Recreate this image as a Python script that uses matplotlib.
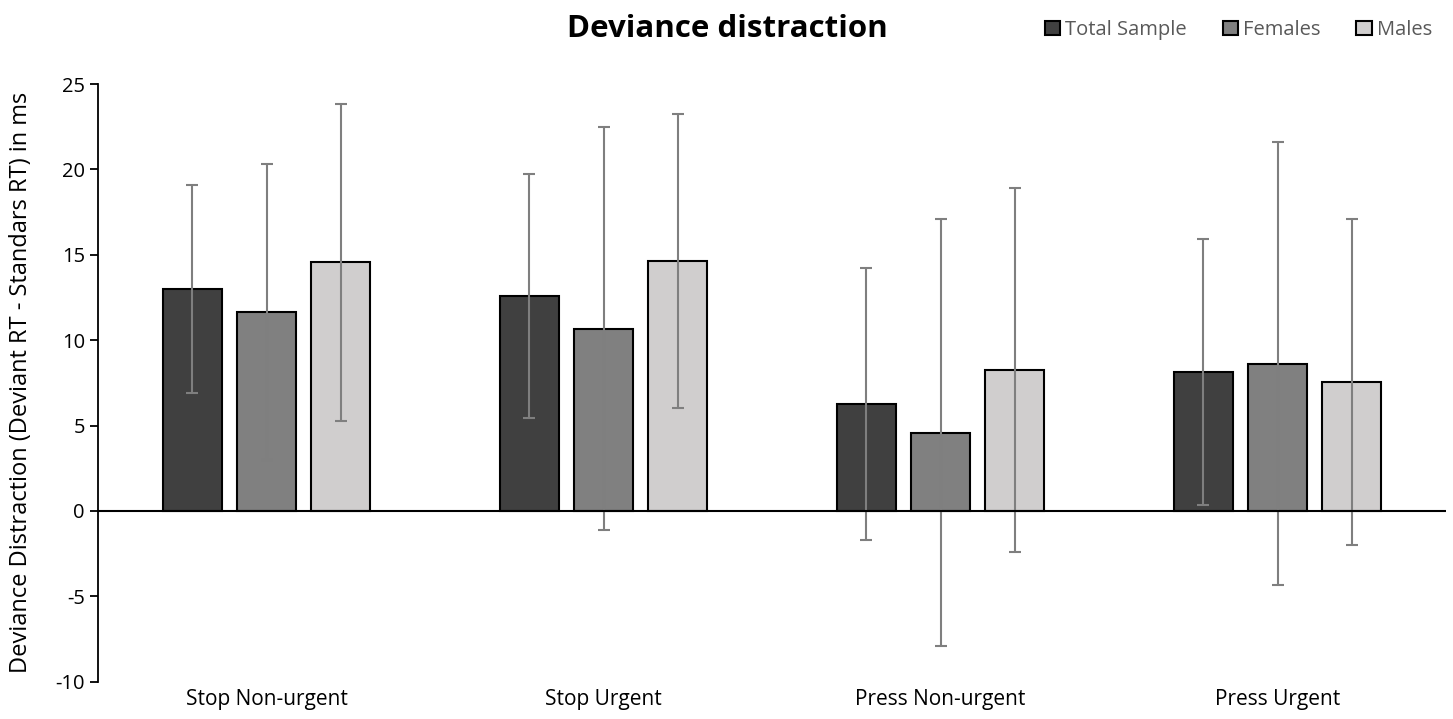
import numpy as np
import matplotlib.pyplot as plt

categories = ['Stop Non-urgent', 'Stop Urgent', 'Press Non-urgent', 'Press Urgent']
series = ['Total Sample', 'Females', 'Males']
total_vals = [13.0, 12.6, 6.25, 8.15]
total_err = [6.1, 7.15, 7.95, 7.8]
female_vals = [11.65, 10.68, 4.57, 8.63]
female_err = [8.65, 11.8, 12.5, 12.98]
male_vals = [14.55, 14.65, 8.25, 7.55]
male_err = [9.3, 8.6, 10.65, 9.55]
colors = ['#404040', '#808080', '#d0cece']
yticks = [-10, -5, 0, 5, 10, 15, 20, 25]

plt.rcParams['font.family'] = ['Open Sans', 'DejaVu Sans']
plt.rcParams['axes.unicode_minus'] = False

fig = plt.figure(figsize=(14.53, 7.19), dpi=100)
ax = fig.add_axes([98 / 1453, 1 - 681.7 / 719, (1446 - 98) / 1453, (681.7 - 84) / 719])

x = np.arange(len(categories))
width = 0.175
step = 0.22
vals = [total_vals, female_vals, male_vals]
errs = [total_err, female_err, male_err]
for i, (v, e) in enumerate(zip(vals, errs)):
    ax.bar(x + (i - 1) * step, v, width, color=colors[i], edgecolor='black',
           linewidth=1.5, label=series[i], zorder=2,
           yerr=e, error_kw=dict(ecolor='#7f7f7f', elinewidth=1.5, capsize=4.5,
                                 capthick=1.5, zorder=3))

ax.axhline(0, color='black', lw=1.5, zorder=4)
ax.set_xlim(-0.5, len(categories) - 0.5)
ax.set_ylim(-10, 25)
ax.set_yticks(yticks)
ax.set_xticks(x)
ax.set_xticklabels(categories, fontsize=15)
ax.tick_params(axis='x', length=0, pad=5)
ax.tick_params(axis='y', labelsize=14.5, length=6, width=1.3, direction='out')
for s in ['top', 'right', 'bottom']:
    ax.spines[s].set_visible(False)
ax.spines['left'].set_linewidth(1.3)

ax.set_ylabel('Deviance Distraction (Deviant RT - Standars RT) in ms', fontsize=17)
ax.yaxis.set_label_coords(-0.048, 0.5)

fig.text(727 / 1453, 1 - 29 / 719, 'Deviance distraction', fontsize=22.5, fontweight='bold',
         ha='center', va='center')

leg = fig.legend(loc='center right', bbox_to_anchor=(1450 / 1453, 1 - 30 / 719), ncol=3,
                 frameon=False, fontsize=14.5, handlelength=0.75, handleheight=0.75,
                 handletextpad=0.25, columnspacing=1.8)
for t in leg.get_texts():
    t.set_color('#595959')

fig.savefig('out.png', dpi=100)
